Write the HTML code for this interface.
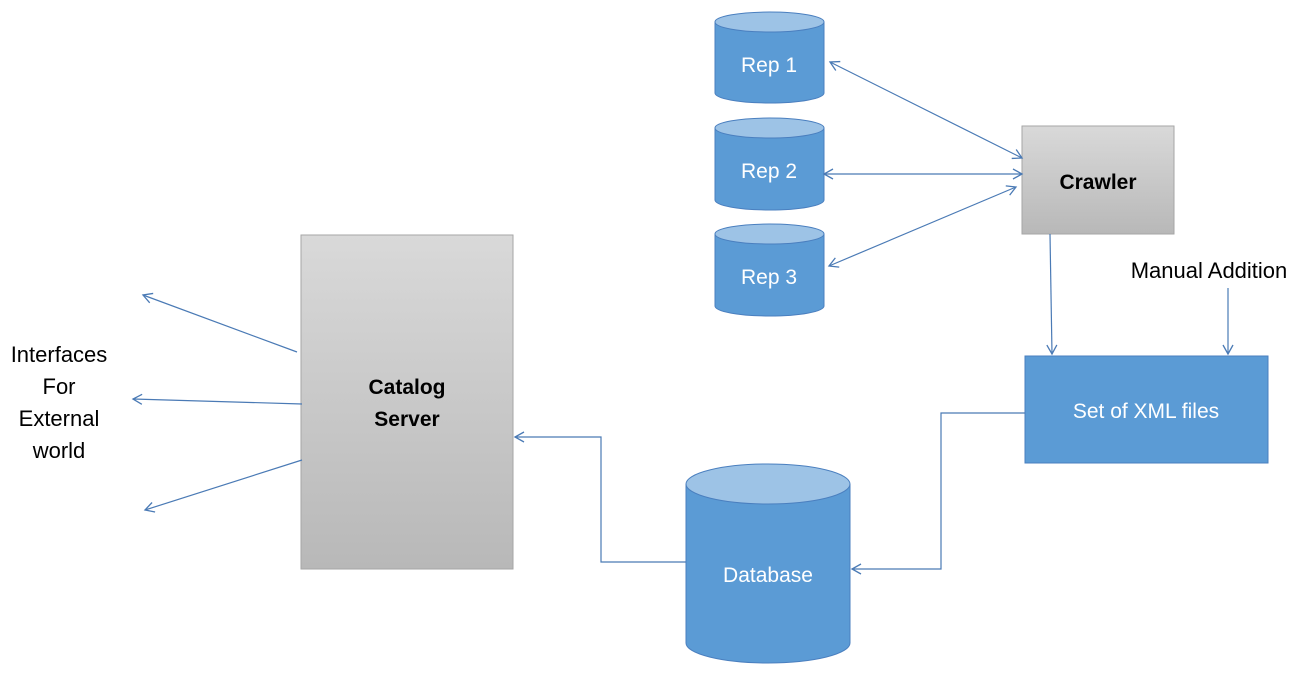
<!DOCTYPE html>
<html><head><style>
body{margin:0;background:#fff;width:1310px;height:669px;overflow:hidden}
svg text{font-family:"Liberation Sans",sans-serif}
</style></head><body>
<svg width="1310" height="669" viewBox="0 0 1310 669">
<defs>
<linearGradient id="g" x1="0" y1="0" x2="0" y2="1"><stop offset="0" stop-color="#d9d9d9"/><stop offset="1" stop-color="#b8b8b8"/></linearGradient>
<marker id="a" markerWidth="12" markerHeight="12" refX="10" refY="6" orient="auto-start-reverse" markerUnits="userSpaceOnUse"><path d="M1,1 L10,6 L1,11" fill="none" stroke="#4a7ab5" stroke-width="1.3"/></marker>
</defs>
<g fill="#5b9bd5" stroke="#4a7fbf" stroke-width="1">
<path d="M715,22 L715,93 A54.5,10 0 0 0 824,93 L824,22"/><ellipse cx="769.5" cy="22" rx="54.5" ry="10" fill="#9dc3e6"/>
<path d="M715,128 L715,200 A54.5,10 0 0 0 824,200 L824,128"/><ellipse cx="769.5" cy="128" rx="54.5" ry="10" fill="#9dc3e6"/>
<path d="M715,234 L715,306 A54.5,10 0 0 0 824,306 L824,234"/><ellipse cx="769.5" cy="234" rx="54.5" ry="10" fill="#9dc3e6"/>
<path d="M686,484 L686,643 A82,20 0 0 0 850,643 L850,484"/><ellipse cx="768" cy="484" rx="82" ry="20" fill="#9dc3e6"/>
<rect x="1025" y="356" width="243" height="107"/>
</g>
<rect x="1022" y="126" width="152" height="108" fill="url(#g)" stroke="#a6a6a6"/>
<rect x="301" y="235" width="212" height="334" fill="url(#g)" stroke="#a6a6a6"/>
<g fill="none" stroke="#4a7ab5" stroke-width="1.2">
<line x1="830" y1="62" x2="1022" y2="158" marker-start="url(#a)" marker-end="url(#a)"/>
<line x1="824" y1="174" x2="1022" y2="174" marker-start="url(#a)" marker-end="url(#a)"/>
<line x1="829" y1="266" x2="1016" y2="187" marker-start="url(#a)" marker-end="url(#a)"/>
<line x1="1050" y1="234" x2="1052" y2="354" marker-end="url(#a)"/>
<line x1="1228" y1="288" x2="1228" y2="354" marker-end="url(#a)"/>
<polyline points="1025,413 941,413 941,569 852,569" marker-end="url(#a)"/>
<polyline points="686,562 601,562 601,437 515,437" marker-end="url(#a)"/>
<line x1="297" y1="352" x2="143" y2="295" marker-end="url(#a)"/>
<line x1="302" y1="404" x2="133" y2="399" marker-end="url(#a)"/>
<line x1="302" y1="460" x2="145" y2="510" marker-end="url(#a)"/>
</g>
<g fill="#fff" font-size="21" text-anchor="middle">
<text x="769" y="72">Rep 1</text><text x="769" y="178">Rep 2</text><text x="769" y="284">Rep 3</text>
<text x="768" y="582">Database</text><text x="1146" y="418">Set of XML files</text>
</g>
<g fill="#000" font-size="22" text-anchor="middle">
<text x="1098" y="189" font-weight="bold" font-size="21">Crawler</text>
<text x="407" y="394" font-weight="bold" font-size="21">Catalog</text><text x="407" y="426" font-weight="bold" font-size="21">Server</text>
<text x="1209" y="278">Manual Addition</text>
<text x="59" y="362">Interfaces</text><text x="59" y="394">For</text><text x="59" y="426">External</text><text x="59" y="458">world</text>
</g>
</svg>
</body></html>
